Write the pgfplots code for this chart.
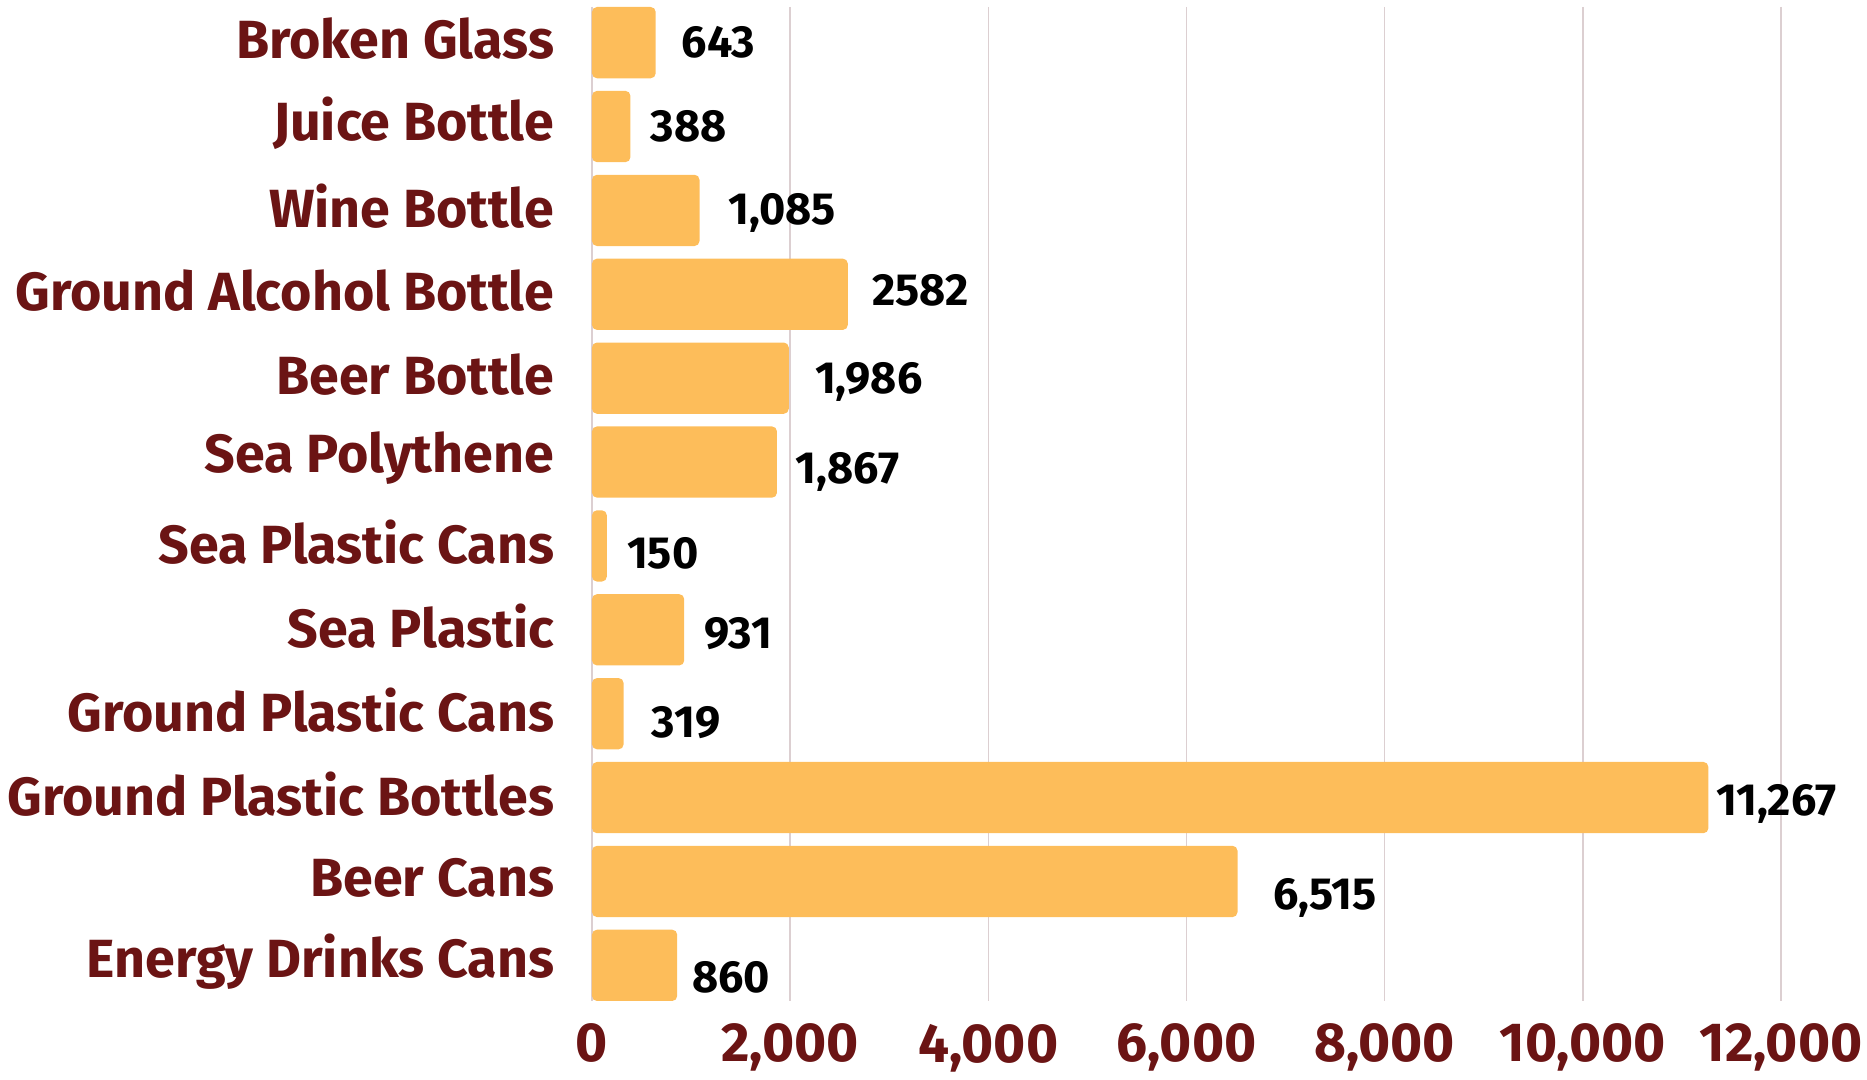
\documentclass[border=0pt]{standalone}
\usepackage{pgfplots}
\pgfplotsset{compat=1.18}
\usepackage{fontspec}
\setmainfont{Fira Sans}
\usetikzlibrary{calc}
\definecolor{barc}{HTML}{FDBD5A}
\definecolor{labc}{HTML}{6B1414}
\definecolor{gridc}{HTML}{DCCFD1}
\pgfplotstableread{
x y lab dx dy
643 0 643 10.2 -0.1
388 1 388 8.0 -0.1
1085 2 1,085 11.3 0.4
2582 3 2582 9.5 1.4
1986 4 1,986 10.3 -0.1
1867 5 1,867 7.4 -2.5
150 6 150 7.9 -2.9
931 7 931 7.9 -1.5
319 8 319 11.1 -3.4
11267 9 11,267 2.9 -1.0
6515 10 6,515 14.1 -5.3
860 11 860 5.9 -4.8
}\datatable
\begin{document}
\begin{tikzpicture}
\begin{axis}[name=ax, scale only axis, width=475.6pt, height=397.6pt,
  xbar, bar width=0.85, bar shift=0pt,
  xmin=0, xmax=12000, ymin=-0.425, ymax=11.425, y dir=reverse,
  ytick={0,...,11},
  yticklabels={Broken Glass, Juice Bottle, Wine Bottle, Ground Alcohol Bottle, Beer Bottle, Sea Polythene, Sea Plastic Cans, Sea Plastic, Ground Plastic Cans, Ground Plastic Bottles, Beer Cans, Energy Drinks Cans},
  xtick={0,2000,...,12000},
  scaled x ticks=false,
  xmajorgrids, grid style={gridc, line width=0.6pt},
  axis lines*=left, x axis line style={draw=none}, y axis line style={gridc, line width=0.6pt},
  major tick length=0pt,
  /pgf/number format/1000 sep={,},
  /pgf/number format/assume math mode=true,
  every tick label/.append style={inner sep=0pt, text=labc, font=\bfseries\fontsize{21.5}{25}\selectfont},
  yticklabel style={anchor=east, xshift=-15pt, yshift=1.5pt},
  xticklabel style={anchor=north, yshift=-9pt, font=\bfseries\fontsize{22}{26}\selectfont},
  clip=false,
]
\addplot[fill=barc, draw=none, rounded corners=2pt,
  nodes near coords, point meta=explicit symbolic,
  visualization depends on={\thisrow{dx} \as \dx},
  visualization depends on={\thisrow{dy} \as \dy},
  nodes near coords style={anchor=west, inner sep=0pt, text=black, text height=12pt, text depth=0pt,
    font=\bfseries\fontsize{18}{21}\selectfont, xshift=\dx pt, yshift=\dy pt}]
  table[x=x, y=y, meta=lab] {\datatable};
\end{axis}
\pgfresetboundingbox
\path ($(ax.south west)+(-236.8pt,-31.6pt)$) rectangle ($(ax.north east)+(34.4pt,2.8pt)$);
\end{tikzpicture}
\end{document}
